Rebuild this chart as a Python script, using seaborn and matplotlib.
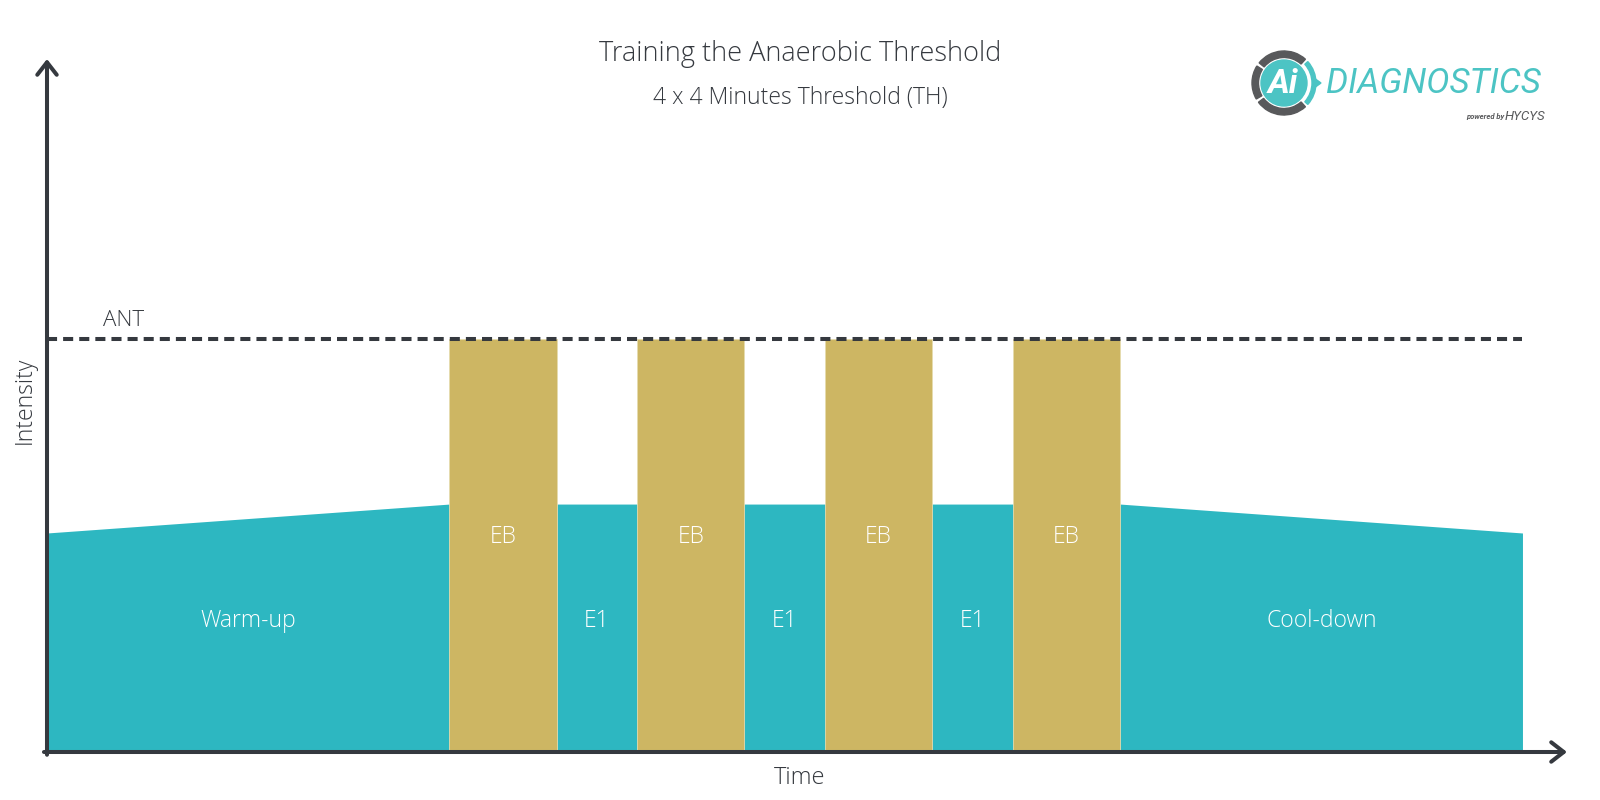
import numpy as np
import pandas as pd
import seaborn as sns
import matplotlib.pyplot as plt
from matplotlib.patches import Circle, Wedge, Polygon

# phases of the session (minutes)
phase_names = ["Warm-up", "EB", "E1", "EB", "E1", "EB", "E1", "EB", "Cool-down"]
phase_minutes = [15, 4, 3, 4, 3, 4, 3, 4, 15]

# base (teal) intensity profile, % of ANT
profile_time = [0, 15, 40, 55]
profile_intensity = [53, 60, 60, 53]

# threshold level
ant_level = 100

TEAL = "#2db7c1"
GOLD = "#cdb663"
DARK = "#35393f"
LOGO_TEAL = "#4cc4c4"
LOGO_GRAY = "#58595b"


def main():
    sns.set_theme(style="white")
    plt.rcParams["font.family"] = ["Open Sans", "DejaVu Sans"]
    plt.rcParams["font.weight"] = "light"

    fig = plt.figure(figsize=(16, 8), dpi=100)
    ax = fig.add_axes([47 / 1600, 48 / 800, 1520 / 1600, 693 / 800])

    starts = np.concatenate([[0], np.cumsum(phase_minutes)[:-1]])
    centers = starts + np.array(phase_minutes) / 2

    # base profile
    ax.fill_between(profile_time, 0, profile_intensity, color=TEAL, lw=0, zorder=1)

    # threshold bouts
    eb_idx = [i for i, n in enumerate(phase_names) if n == "EB"]
    ax.bar(starts[eb_idx], ant_level, width=[phase_minutes[i] for i in eb_idx],
           align="edge", color=GOLD, edgecolor="#e6dcae", linewidth=0.6, zorder=2)

    # ANT line
    ant_df = pd.DataFrame({"t": [0, profile_time[-1]], "v": [ant_level, ant_level]})
    sns.lineplot(data=ant_df, x="t", y="v", ax=ax, color=DARK, linewidth=2.9,
                 dashes=False, zorder=3)
    ax.lines[-1].set_dashes([2.5, 1.5])
    ax.text(2.85, ant_level + 1.8, "ANT", fontsize=16, color=DARK, ha="center", va="bottom")

    # phase labels
    for name, c in zip(phase_names, centers):
        y = 52 if name == "EB" else 31.7
        ax.text(c, y, name, fontsize=16.5, color="white", ha="center", va="center", zorder=4)

    ax.set_xlim(0, 56.66)
    ax.set_ylim(0, 167.7)
    ax.set_xticks([])
    ax.set_yticks([])
    for s in ax.spines.values():
        s.set_visible(False)

    # axis arrows
    arrow = dict(arrowstyle="->,head_length=0.45,head_width=0.35", lw=2.9, color=DARK,
                 mutation_scale=20, shrinkA=0, shrinkB=0)
    ax.annotate("", xy=(1, 0), xytext=(-0.002, 0), xycoords="axes fraction",
                arrowprops=arrow, annotation_clip=False)
    ax.annotate("", xy=(0, 1), xytext=(0, -0.004), xycoords="axes fraction",
                arrowprops=arrow, annotation_clip=False)

    ax.set_xlabel("Time", fontsize=17, color=DARK, va="center", fontweight="light")
    ax.xaxis.set_label_coords(0.495, -0.038)
    ax.set_ylabel("Intensity", fontsize=16.5, color=DARK, va="center", fontweight="light")
    ax.yaxis.set_label_coords(-0.0148, 0.508)

    fig.text(0.5, 1 - 54 / 800, "Training the Anaerobic Threshold", fontsize=19.5,
             color=DARK, ha="center", va="center")
    fig.text(0.5, 1 - 98 / 800, "4 x 4 Minutes Threshold (TH)", fontsize=16.5,
             color=DARK, ha="center", va="center")

    # logo
    lg = fig.add_axes([1230 / 1600, 1 - 125 / 800, 330 / 1600, 85 / 800])
    lg.set_xlim(1230, 1560)
    lg.set_ylim(125, 40)
    lg.axis("off")
    cx, cy = 1284, 83
    for a0, a1 in [(48, 143), (150, 212), (219, 312)]:
        lg.add_patch(Wedge((cx, cy), 32, a0, a1, width=6.5, color=LOGO_GRAY))
    lg.add_patch(Wedge((cx, cy), 32, -42, 42, width=4, color=LOGO_TEAL))
    lg.add_patch(Polygon([[cx + 30, cy - 5], [cx + 37, cy], [cx + 30, cy + 5]],
                         closed=True, color=LOGO_TEAL))
    lg.add_patch(Circle((cx, cy), 23, color=LOGO_TEAL))
    lg.text(cx - 1, cy + 1, "Ai", fontsize=24, fontweight="bold", style="italic",
            color="white", ha="center", va="center", family="Roboto")
    lg.text(1326, 83, "DIAGNOSTICS", fontsize=25, style="italic", fontweight="normal",
            color=LOGO_TEAL, ha="left", va="center", family="Roboto")
    lg.text(1545, 116, "HYCYS", fontsize=9.5, style="italic", fontweight="normal",
            color=LOGO_GRAY, ha="right", va="center", family="Roboto")
    lg.text(1505, 117, "powered by", fontsize=5.5, style="italic", fontweight="bold",
            color=LOGO_GRAY, ha="right", va="center", family="Roboto")

    fig.savefig("out.png", dpi=100)
    plt.close(fig)


if __name__ == "__main__":
    main()
